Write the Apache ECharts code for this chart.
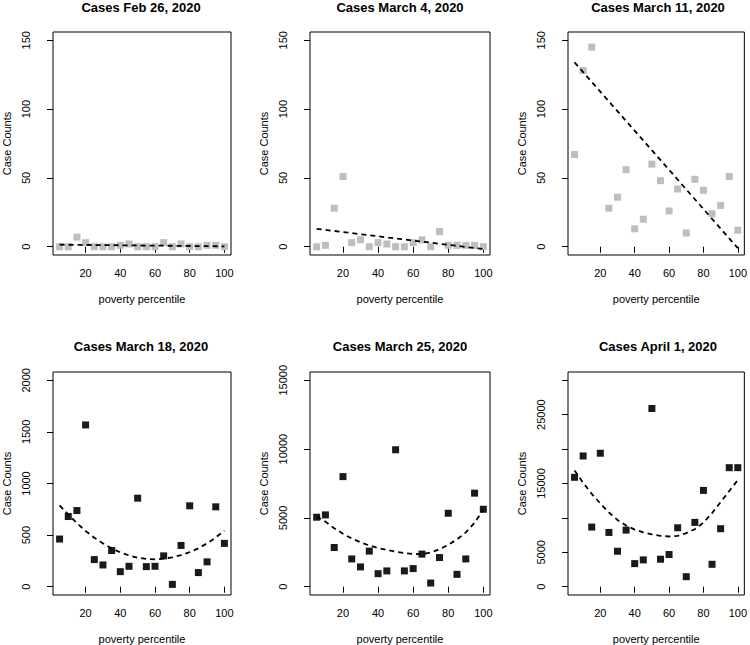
<!DOCTYPE html>
<html>
<head>
<meta charset="utf-8">
<script src="https://cdn.jsdelivr.net/npm/echarts@6/dist/echarts.min.js"></script>
<style>
html,body{margin:0;padding:0;background:#fff;}
#chart{width:750px;height:645px;}
</style>
</head>
<body>
<div id="chart"></div>
<script>
// ---- data ----
const percentile = [5,10,15,20,25,30,35,40,45,50,55,60,65,70,75,80,85,90,95,100];
const titles = ["Cases Feb 26, 2020","Cases March 4, 2020","Cases March 11, 2020","Cases March 18, 2020","Cases March 25, 2020","Cases April 1, 2020"];
const casesFeb26 = [0,0,7,3,0,0,0,1,2,0,0,0,3,0,2,0,0,1,1,0];
const casesMar4  = [0,1,28,51,3,5,0,3,2,0,0,3,5,0,11,1,1,1,1,0];
const casesMar11 = [67,128,145,null,28,36,56,13,20,60,48,26,42,10,49,41,24,30,51,12];
const casesMar18 = [462,680,738,1567,263,211,351,146,198,858,195,198,299,23,400,784,137,241,774,420];
const casesMar25 = [5050,5220,2850,8000,2020,1440,2590,950,1150,9950,1150,1320,2370,270,2120,5340,900,2020,6800,5630];
const casesApr1  = [15900,19000,8670,19400,7890,5160,8230,3360,3900,25900,4000,4680,8570,1460,9350,14000,3260,8430,17300,17300];
// fitted trend lines
const linearFitX = [5,100];
const fitFeb26 = [1.5,0.3];
const fitMar4  = [13,-1.7];
const fitMar11 = [134,-1];
const fitMar18 = [787,700,615,540,475,420,372,333,303,281,269,265,272,285,306,335,372,420,477,543];
const fitMar25 = [5100,4730,4250,3850,3500,3230,3000,2820,2670,2550,2450,2380,2370,2480,2720,3050,3440,3950,4650,5600];
const fitApr1  = [16900,15100,13500,12100,10800,9700,8900,8300,7900,7600,7400,7300,7400,7800,8350,9300,10700,12300,13900,15500];
// axis ticks
const xTicks = [20,40,60,80,100];
const yTicksSmall = [0,50,100,150];
const yTicksMar18 = [0,500,1000,1500,2000];
const yTicksMar25 = [0,5000,10000,15000];
const yTicksApr1  = [0,5000,10000,15000,20000,25000,30000];
const yLabelsApr1 = [0,5000,15000,25000];

const panels = [
  {cases:casesFeb26, fitX:linearFitX, fit:fitFeb26, color:'#BEBEBE', ymin:-6, ymax:156, ticks:yTicksSmall, labels:yTicksSmall},
  {cases:casesMar4,  fitX:linearFitX, fit:fitMar4,  color:'#BEBEBE', ymin:-6, ymax:156, ticks:yTicksSmall, labels:yTicksSmall},
  {cases:casesMar11, fitX:linearFitX, fit:fitMar11, color:'#BEBEBE', ymin:-6, ymax:156, ticks:yTicksSmall, labels:yTicksSmall},
  {cases:casesMar18, fitX:percentile, fit:fitMar18, color:'#1a1a1a', ymin:-80, ymax:2080, ticks:yTicksMar18, labels:yTicksMar18},
  {cases:casesMar25, fitX:percentile, fit:fitMar25, color:'#1a1a1a', ymin:-600, ymax:15600, ticks:yTicksMar25, labels:yTicksMar25},
  {cases:casesApr1,  fitX:percentile, fit:fitApr1,  color:'#1a1a1a', ymin:-1200, ymax:31200, ticks:yTicksApr1, labels:yLabelsApr1}
];

const FONT = '"Liberation Sans", Arial, Helvetica, sans-serif';
const lefts = [51, 310, 568];
const tops = [32, 372];
const W = 180, H = 223;

const grids = [], xAxes = [], yAxes = [], series = [], graphics = [];
panels.forEach((p, i) => {
  const col = i % 3, row = Math.floor(i / 3);
  const left = lefts[col], top = tops[row];
  grids.push({left: left, top: top, width: W, height: H, show: true, borderColor: '#000', borderWidth: 1, backgroundColor: 'transparent', containLabel: false});
  xAxes.push({
    type: 'value', gridIndex: i, min: 1.2, max: 103.8,
    name: 'poverty percentile', nameLocation: 'middle', nameGap: 38,
    nameTextStyle: {fontFamily: FONT, fontSize: 11, color: '#000'},
    axisLine: {show: false}, splitLine: {show: false},
    axisTick: {show: true, inside: false, length: 6, customValues: xTicks, lineStyle: {color: '#000'}},
    axisLabel: {customValues: xTicks, margin: 12, fontFamily: FONT, fontSize: 11, color: '#000', formatter: v => String(v)}
  });
  yAxes.push({
    type: 'value', gridIndex: i, min: p.ymin, max: p.ymax,
    name: 'Case Counts', nameLocation: 'middle', nameGap: 41,
    nameTextStyle: {fontFamily: FONT, fontSize: 11, color: '#000'},
    axisLine: {show: false}, splitLine: {show: false},
    axisTick: {show: true, inside: false, length: 6, customValues: p.ticks, lineStyle: {color: '#000'}},
    axisLabel: {customValues: p.labels, rotate: 90, margin: 22, fontFamily: FONT, fontSize: 11, color: '#000', formatter: v => String(v)}
  });
  const pts = [];
  percentile.forEach((x, k) => { if (p.cases[k] !== null) pts.push([x, p.cases[k]]); });
  series.push({
    type: 'scatter', xAxisIndex: i, yAxisIndex: i, data: pts,
    symbol: 'rect', symbolSize: 7, itemStyle: {color: p.color, opacity: 1}, silent: true, z: 2
  });
  series.push({
    type: 'line', xAxisIndex: i, yAxisIndex: i,
    data: p.fitX.map((x, k) => [x, p.fit[k]]),
    showSymbol: false, symbol: 'none', smooth: false,
    lineStyle: {color: '#000', width: 1.8, type: [5, 4]}, silent: true, z: 3
  });
  graphics.push({
    type: 'text', x: left + W / 2, y: row === 0 ? 1 : 340,
    style: {text: titles[i], font: 'bold 13px ' + FONT, fill: '#000', textAlign: 'center', textVerticalAlign: 'top'}
  });
});

const chart = echarts.init(document.getElementById('chart'), null, {renderer: 'svg'});
chart.setOption({
  animation: false,
  backgroundColor: '#fff',
  grid: grids, xAxis: xAxes, yAxis: yAxes, series: series,
  graphic: graphics
});
</script>
</body>
</html>
